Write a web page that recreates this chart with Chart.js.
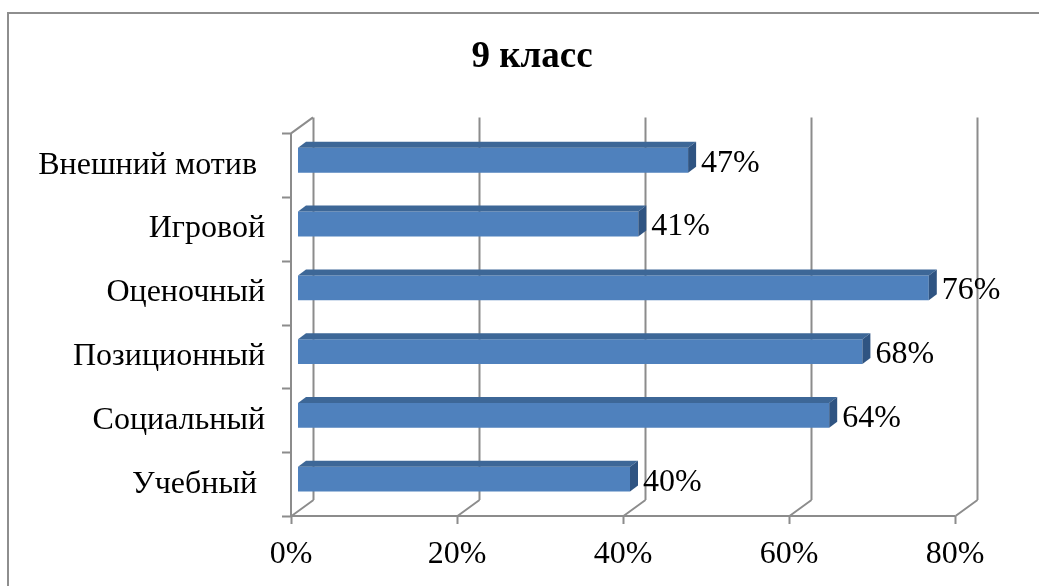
<!DOCTYPE html>
<html>
<head>
<meta charset="utf-8">
<script src="https://cdn.jsdelivr.net/npm/chart.js@4/dist/chart.umd.min.js"></script>
<style>
    html, body { margin: 0; padding: 0; background: #fff; }
    #wrap { position: relative; width: 1039px; height: 586px; overflow: hidden; }
    #frame { position: absolute; left: 7px; top: 12px; width: 1100px; height: 700px; border: 2px solid #8e8e8e; }
    canvas { position: absolute; left: 0; top: 0; }
</style>
</head>
<body>
<div id="wrap">
    <div id="frame"></div>
    <canvas id="motive_chart" width="1039" height="586"></canvas>
</div>
<script>
const categories = ["Внешний мотив ", "Игровой", "Оценочный", "Позиционный", "Социальный", "Учебный "];
const values = [47, 41, 76, 68, 64, 40];
const tickValues = [0, 20, 40, 60, 80];

// depth of the 3d box and of the bars
const DEPTH = {x: 22, y: 16};
const BAR_SHIFT = {x: 7, y: -5};
const BAR_DEPTH = {x: 8, y: 6};
const GRID = "#8c8c8c";
const FONT = "'Liberation Serif', 'Times New Roman', serif";

const box3d = {
    id: "box3d",
    afterLayout(chart) {
        // the title is centred on the whole chart object, not on the plot
        if (chart.titleBlock) {
            chart.titleBlock.left = 25;
            chart.titleBlock.right = 1039;
        }
    },
    beforeDatasetsDraw(chart) {
        const ctx = chart.ctx;
        const {left, right, top, bottom} = chart.chartArea;
        const xs = chart.scales.x;
        const ys = chart.scales.y;
        ctx.save();
        ctx.strokeStyle = GRID;
        ctx.lineWidth = 2;
        ctx.beginPath();
        tickValues.forEach((v) => {
            const px = Math.round(xs.getPixelForValue(v)) + 0.5;
            // back wall line
            ctx.moveTo(px + DEPTH.x, top - DEPTH.y);
            ctx.lineTo(px + DEPTH.x, bottom - DEPTH.y);
            // floor diagonal
            ctx.moveTo(px, bottom);
            ctx.lineTo(px + DEPTH.x, bottom - DEPTH.y);
            // tick mark
            ctx.moveTo(px, bottom);
            ctx.lineTo(px, bottom + 8);
        });
        // front axes
        ctx.moveTo(left, bottom);
        ctx.lineTo(right, bottom);
        ctx.moveTo(left, top);
        ctx.lineTo(left, bottom);
        ctx.moveTo(left, top);
        ctx.lineTo(left + DEPTH.x, top - DEPTH.y);
        for (let i = 0; i <= categories.length; i++) {
            const py = Math.round(ys.getPixelForDecimal(i / categories.length)) + 0.5;
            ctx.moveTo(left - 9, py);
            ctx.lineTo(left, py);
        }
        ctx.stroke();
        ctx.restore();

        ctx.save();
        ctx.translate(BAR_SHIFT.x, BAR_SHIFT.y);
    },
    afterDatasetsDraw(chart) {
        const ctx = chart.ctx;
        const meta = chart.getDatasetMeta(0);
        meta.data.forEach((bar, i) => {
            const h = bar.height;
            const t = bar.y - h / 2;
            const b = bar.y + h / 2;
            // top face
            ctx.fillStyle = "#3d6797";
            ctx.beginPath();
            ctx.moveTo(bar.base, t);
            ctx.lineTo(bar.x, t);
            ctx.lineTo(bar.x + BAR_DEPTH.x, t - BAR_DEPTH.y);
            ctx.lineTo(bar.base + BAR_DEPTH.x, t - BAR_DEPTH.y);
            ctx.closePath();
            ctx.fill();
            // side face
            ctx.fillStyle = "#2f5482";
            ctx.beginPath();
            ctx.moveTo(bar.x, t);
            ctx.lineTo(bar.x + BAR_DEPTH.x, t - BAR_DEPTH.y);
            ctx.lineTo(bar.x + BAR_DEPTH.x, b - BAR_DEPTH.y);
            ctx.lineTo(bar.x, b);
            ctx.closePath();
            ctx.fill();
            // value label
            ctx.fillStyle = "#000";
            ctx.font = "32px " + FONT;
            ctx.textAlign = "left";
            ctx.textBaseline = "middle";
            ctx.fillText(values[i] + "%", bar.x + BAR_DEPTH.x + 5, bar.y + 3);
        });
        ctx.restore();
    },
};

const ctx = document.getElementById("motive_chart").getContext("2d");
new Chart(ctx, {
    type: "bar",
    data: {
        labels: categories,
        datasets: [
            {
                data: values,
                backgroundColor: "#4f81bd",
                borderWidth: 0,
                barPercentage: 0.39,
                categoryPercentage: 1,
            },
        ],
    },
    options: {
        indexAxis: "y",
        responsive: false,
        animation: false,
        layout: {
            padding: {left: 0, right: 84, top: 0, bottom: 0},
        },
        scales: {
            x: {
                min: 0,
                max: 80,
                afterBuildTicks: (scale) => {
                    scale.ticks = tickValues.map((v) => ({value: v}));
                },
                afterFit: (scale) => {
                    scale.height = 70;
                },
                grid: {display: false, drawTicks: false},
                border: {display: false},
                ticks: {
                    padding: 19,
                    color: "#000",
                    font: {family: FONT, size: 32},
                    callback: (v) => v + "%",
                },
            },
            y: {
                afterFit: (scale) => {
                    scale.width = 291;
                },
                grid: {display: false, drawTicks: false},
                border: {display: false},
                ticks: {
                    padding: 26,
                    color: "#000",
                    font: {family: FONT, size: 32},
                },
            },
        },
        plugins: {
            legend: {display: false},
            tooltip: {enabled: false},
            title: {
                display: true,
                text: "9 класс",
                color: "#000",
                font: {family: FONT, size: 37, weight: "bold"},
                padding: {top: 35, bottom: 54},
            },
        },
    },
    plugins: [box3d],
});
</script>
</body>
</html>
